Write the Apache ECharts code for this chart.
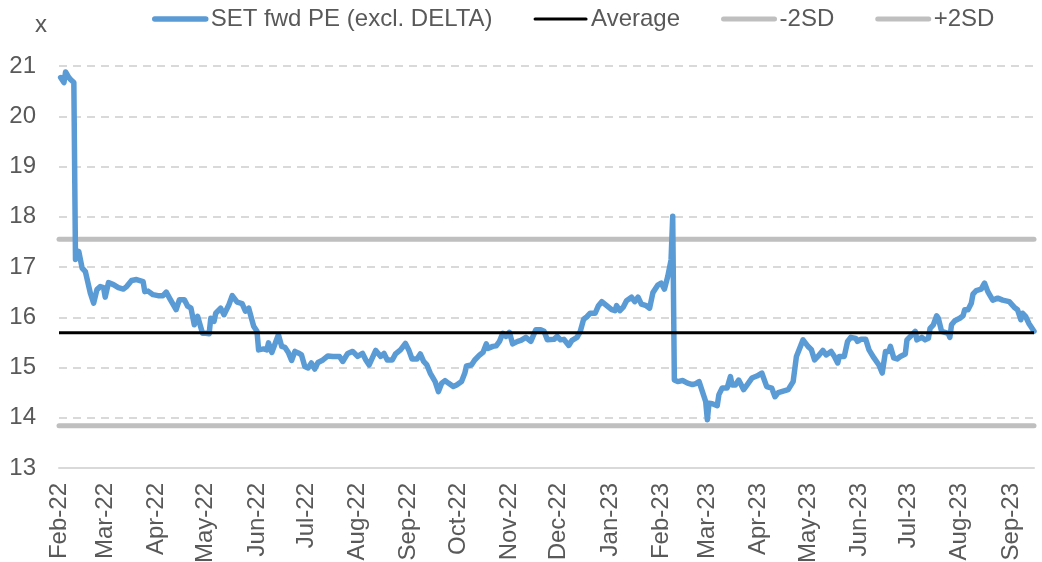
<!DOCTYPE html>
<html>
<head>
<meta charset="utf-8">
<script src="https://cdn.jsdelivr.net/npm/echarts@6/dist/echarts.min.js"></script>
<style>
html,body{margin:0;padding:0;background:#fff;}
#chart{width:1042px;height:562px;}
</style>
</head>
<body>
<div id="chart"></div>
<script>
// ---- data ----
const seriesNames = ['SET fwd PE (excl. DELTA)', 'Average', '-2SD', '+2SD'];
const startDate = '2022-02-01';
const endDate = '2023-09-15';
const yTicks = [13, 14, 15, 16, 17, 18, 19, 20, 21];
const monthNames = ['Jan','Feb','Mar','Apr','May','Jun','Jul','Aug','Sep','Oct','Nov','Dec'];

const peDates = [
'2022-02-02','2022-02-04','2022-02-05','2022-02-07','2022-02-08','2022-02-10','2022-02-11','2022-02-13','2022-02-14','2022-02-15',
'2022-02-17','2022-02-20','2022-02-22','2022-02-24','2022-02-26','2022-02-28','2022-03-01','2022-03-03','2022-03-06','2022-03-09',
'2022-03-12','2022-03-14','2022-03-17','2022-03-20','2022-03-24','2022-03-25','2022-03-27','2022-03-30','2022-04-02','2022-04-05',
'2022-04-07','2022-04-09','2022-04-13','2022-04-15','2022-04-18','2022-04-20','2022-04-22','2022-04-24','2022-04-26','2022-04-29',
'2022-05-01','2022-05-03','2022-05-04','2022-05-06','2022-05-07','2022-05-10','2022-05-12','2022-05-15','2022-05-17','2022-05-20',
'2022-05-23','2022-05-25','2022-05-27','2022-05-30','2022-06-01','2022-06-02','2022-06-05','2022-06-07','2022-06-08','2022-06-10',
'2022-06-14','2022-06-16','2022-06-18','2022-06-20','2022-06-22','2022-06-24','2022-06-26','2022-06-28','2022-06-30','2022-07-02',
'2022-07-04','2022-07-06','2022-07-08','2022-07-11','2022-07-14','2022-07-17','2022-07-21','2022-07-23','2022-07-26','2022-07-29',
'2022-08-01','2022-08-04','2022-08-06','2022-08-08','2022-08-12','2022-08-15','2022-08-17','2022-08-19','2022-08-22','2022-08-24',
'2022-08-27','2022-08-30','2022-09-01','2022-09-03','2022-09-06','2022-09-08','2022-09-10','2022-09-12','2022-09-14','2022-09-17',
'2022-09-19','2022-09-21','2022-09-23','2022-09-25','2022-09-28','2022-09-30','2022-10-03','2022-10-05','2022-10-06','2022-10-09',
'2022-10-11','2022-10-14','2022-10-16','2022-10-18','2022-10-19','2022-10-22','2022-10-24','2022-10-26','2022-10-28','2022-10-30',
'2022-11-01','2022-11-03','2022-11-06','2022-11-08','2022-11-11','2022-11-14','2022-11-17','2022-11-20','2022-11-22','2022-11-24',
'2022-11-25','2022-11-28','2022-11-30','2022-12-02','2022-12-04','2022-12-07','2022-12-09','2022-12-12','2022-12-14','2022-12-16',
'2022-12-18','2022-12-20','2022-12-23','2022-12-25','2022-12-27','2022-12-30','2023-01-02','2023-01-04','2023-01-05','2023-01-07',
'2023-01-09','2023-01-11','2023-01-14','2023-01-16','2023-01-18','2023-01-20','2023-01-23','2023-01-25','2023-01-26','2023-01-27',
'2023-01-30','2023-02-01','2023-02-03','2023-02-05','2023-02-07','2023-02-08','2023-02-09','2023-02-11','2023-02-14','2023-02-17',
'2023-02-20','2023-02-22','2023-02-24','2023-02-26','2023-02-28','2023-03-01','2023-03-02','2023-03-04','2023-03-07','2023-03-08',
'2023-03-10','2023-03-13','2023-03-15','2023-03-16','2023-03-18','2023-03-20','2023-03-23','2023-03-25','2023-03-28','2023-03-31',
'2023-04-03','2023-04-06','2023-04-09','2023-04-11','2023-04-13','2023-04-17','2023-04-19','2023-04-22','2023-04-24','2023-04-28',
'2023-05-01','2023-05-03','2023-05-05','2023-05-07','2023-05-10','2023-05-12','2023-05-15','2023-05-17','2023-05-19','2023-05-20',
'2023-05-23','2023-05-25','2023-05-27','2023-05-30','2023-05-31','2023-06-02','2023-06-05','2023-06-07','2023-06-10','2023-06-13',
'2023-06-15','2023-06-17','2023-06-19','2023-06-20','2023-06-22','2023-06-24','2023-06-26','2023-06-29','2023-06-30','2023-07-03',
'2023-07-05','2023-07-06','2023-07-09','2023-07-11','2023-07-13','2023-07-14','2023-07-16','2023-07-18','2023-07-19','2023-07-21',
'2023-07-23','2023-07-25','2023-07-26','2023-07-27','2023-07-29','2023-08-01','2023-08-03','2023-08-04','2023-08-06','2023-08-08',
'2023-08-09','2023-08-11','2023-08-14','2023-08-16','2023-08-18','2023-08-21','2023-08-24','2023-08-27','2023-08-31','2023-09-03',
'2023-09-05','2023-09-07','2023-09-08','2023-09-10','2023-09-12','2023-09-15'
];
const peValues = [
20.77,20.67,20.88,20.77,20.73,20.67,17.15,17.31,17.30,16.98,
16.91,16.48,16.28,16.55,16.61,16.59,16.40,16.69,16.65,16.59,
16.56,16.61,16.73,16.75,16.71,16.51,16.52,16.45,16.43,16.43,
16.50,16.38,16.15,16.35,16.35,16.22,16.18,15.85,16.02,15.68,
15.68,15.67,15.98,15.92,16.08,16.18,16.05,16.25,16.43,16.30,
16.27,16.12,16.18,15.82,15.72,15.35,15.37,15.35,15.49,15.30,
15.65,15.42,15.40,15.30,15.14,15.32,15.29,15.25,15.02,14.99,
15.09,14.97,15.10,15.15,15.23,15.22,15.22,15.12,15.28,15.32,
15.22,15.28,15.15,15.05,15.34,15.22,15.28,15.15,15.15,15.27,
15.35,15.48,15.35,15.17,15.17,15.27,15.12,15.05,14.89,14.72,
14.52,14.69,14.74,14.69,14.62,14.65,14.72,14.89,15.03,15.05,
15.15,15.25,15.30,15.47,15.38,15.42,15.43,15.52,15.68,15.62,
15.70,15.47,15.52,15.54,15.60,15.52,15.75,15.75,15.72,15.55,
15.52,15.56,15.62,15.55,15.56,15.44,15.54,15.60,15.72,15.96,
16.01,16.08,16.08,16.23,16.31,16.23,16.15,16.13,16.23,16.13,
16.20,16.33,16.40,16.31,16.40,16.26,16.23,16.18,16.18,16.49,
16.64,16.68,16.56,16.81,17.14,18.01,14.75,14.72,14.74,14.69,
14.66,14.68,14.72,14.52,14.32,13.96,14.29,14.28,14.24,14.46,
14.59,14.59,14.82,14.65,14.65,14.75,14.56,14.65,14.79,14.83,
14.89,14.62,14.59,14.42,14.50,14.54,14.56,14.72,15.22,15.55,
15.42,15.36,15.15,15.22,15.34,15.25,15.32,15.22,15.09,15.22,
15.22,15.52,15.60,15.58,15.52,15.56,15.56,15.35,15.19,15.05,
14.89,15.32,15.32,15.42,15.19,15.17,15.22,15.27,15.55,15.65,
15.72,15.55,15.60,15.55,15.58,15.78,15.85,16.03,15.98,15.72,
15.70,15.68,15.60,15.85,15.93,15.98,16.03,16.15,16.15,16.28,
16.46,16.53,16.56,16.68,16.51,16.34,16.38,16.34,16.31,16.20,
16.15,15.95,16.08,16.01,15.87,15.72
];
const averageValue = 15.69;
const minus2SD = 13.84;
const plus2SD = 17.55;

// ---- build category axis of calendar days ----
function buildDays(a, b) {
  const out = [];
  let t = Date.UTC(+a.slice(0,4), +a.slice(5,7)-1, +a.slice(8,10));
  const end = Date.UTC(+b.slice(0,4), +b.slice(5,7)-1, +b.slice(8,10));
  while (t <= end) {
    out.push(new Date(t).toISOString().slice(0,10));
    t += 86400000;
  }
  return out;
}
const days = buildDays(startDate, endDate);
const peData = peDates.map((d, i) => [d, peValues[i]]);
const flat = v => [[days[0], v], [days[days.length-1], v]];

const FONT = 'Liberation Sans, Arial, sans-serif';
const GRAY = '#595959';
const BLUE = '#5B9BD5', BLACK = '#000000', LGRAY = '#BFBFBF';
const lineWidths = [5.5, 3, 5, 5];
const lineColors = [BLUE, BLACK, LGRAY, LGRAY];

const chart = echarts.init(document.getElementById('chart'), null, {renderer: 'canvas'});
chart.setOption({
  animation: false,
  backgroundColor: '#fff',
  grid: {left: 59, right: 8, top: 66, bottom: 94, containLabel: false, outerBoundsMode: 'none'},
  legend: {
    left: 147, top: 2,
    itemWidth: 51, itemHeight: 14, itemGap: 41,
    textStyle: {fontSize: 24, color: GRAY, fontFamily: FONT},
    data: seriesNames.map((n, i) => ({
      name: n,
      itemStyle: {opacity: 0},
      lineStyle: {width: lineWidths[i], color: lineColors[i], cap: 'round', opacity: 1}
    }))
  },
  graphic: [{
    type: 'text', left: 35, top: 13,
    style: {text: 'x', fontSize: 24, fill: GRAY, fontFamily: FONT}
  }],
  xAxis: {
    type: 'category',
    data: days,
    boundaryGap: false,
    axisLine: {show: true, lineStyle: {color: '#D9D9D9', width: 2}},
    axisTick: {show: false},
    splitLine: {show: false},
    axisLabel: {
      rotate: 90,
      margin: 15,
      fontSize: 24,
      color: GRAY,
      fontFamily: FONT,
      interval: (idx, val) => val.slice(8) === '01',
      formatter: val => monthNames[+val.slice(5,7)-1] + '-' + val.slice(2,4)
    }
  },
  yAxis: {
    type: 'value',
    min: yTicks[0], max: yTicks[yTicks.length-1], interval: 1,
    axisLine: {show: false},
    axisTick: {show: false},
    axisLabel: {fontSize: 24, color: GRAY, fontFamily: FONT, margin: 23},
    splitLine: {show: true, lineStyle: {color: '#D9D9D9', width: 2, type: [8, 6]}}
  },
  series: [
    {name: seriesNames[0], type: 'line', data: peData, symbol: 'none', z: 3,
     lineStyle: {color: BLUE, width: lineWidths[0], join: 'round', cap: 'round'}, itemStyle: {color: BLUE}},
    {name: seriesNames[1], type: 'line', data: flat(averageValue), symbol: 'none', z: 4,
     lineStyle: {color: BLACK, width: lineWidths[1]}, itemStyle: {color: BLACK}},
    {name: seriesNames[2], type: 'line', data: flat(minus2SD), symbol: 'none', z: 2,
     lineStyle: {color: LGRAY, width: lineWidths[2], cap: 'round'}, itemStyle: {color: LGRAY}},
    {name: seriesNames[3], type: 'line', data: flat(plus2SD), symbol: 'none', z: 2,
     lineStyle: {color: LGRAY, width: lineWidths[3], cap: 'round'}, itemStyle: {color: LGRAY}}
  ]
});
</script>
</body>
</html>
